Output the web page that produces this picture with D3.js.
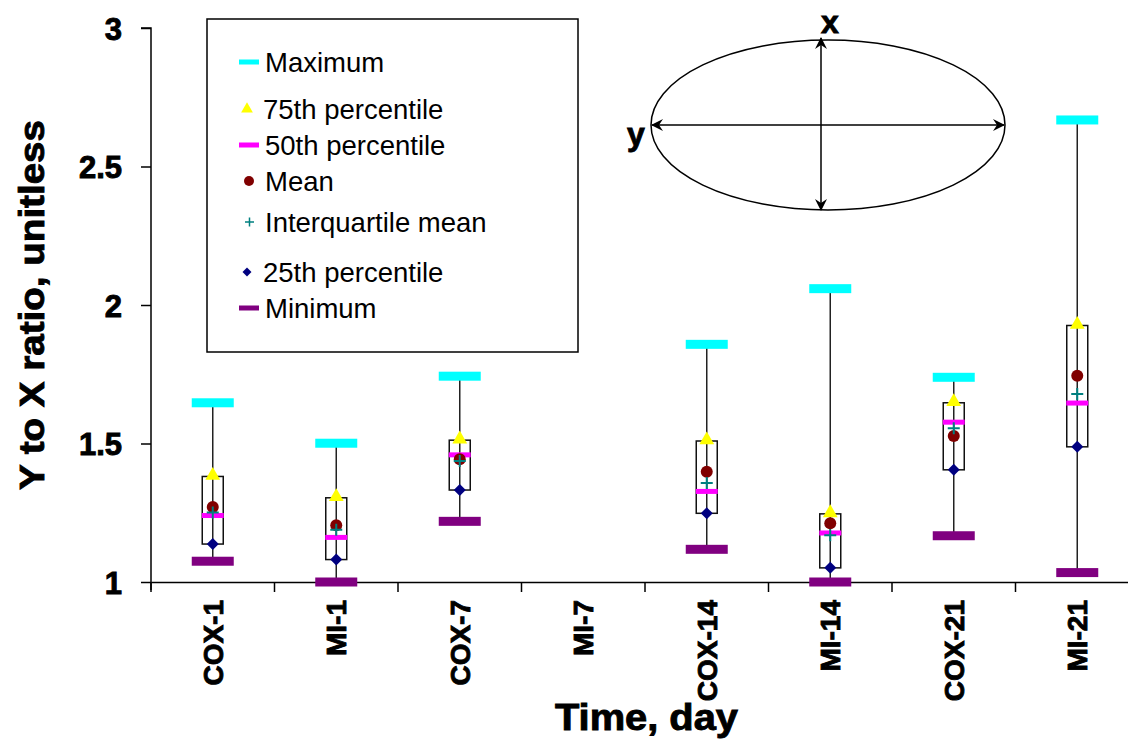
<!DOCTYPE html>
<html>
<head>
<meta charset="utf-8">
<script src="https://cdn.jsdelivr.net/npm/d3@7"></script>
<style>
  body { margin: 0; background: #fff; }
  svg { display: block; font-family: "Liberation Sans", Arial, sans-serif; }
  .heavy { font-weight: bold; stroke: #000; stroke-width: 0.9px; }
</style>
</head>
<body>
<div id="chart"></div>
<script>
// Box plot data (MI-7 has no data).
const categories = ["COX-1", "MI-1", "COX-7", "MI-7", "COX-14", "MI-14", "COX-21", "MI-21"];
const maxVals  = [1.647, 1.501, 1.743, null, 1.858, 2.059, 1.739, 2.668];
const p75Vals  = [1.381, 1.304, 1.512, null, 1.509, 1.246, 1.647, 1.926];
const p50Vals  = [1.240, 1.161, 1.459, null, 1.327, 1.177, 1.577, 1.646];
const meanVals = [1.271, 1.205, 1.443, null, 1.398, 1.212, 1.527, 1.745];
const iqmVals  = [1.251, 1.189, 1.437, null, 1.357, 1.169, 1.555, 1.679];
const p25Vals  = [1.137, 1.081, 1.332, null, 1.248, 1.051, 1.405, 1.488];
const minVals  = [1.075, 1.000, 1.219, null, 1.118, 1.000, 1.167, 1.034];
const yTicks = [1, 1.5, 2, 2.5, 3];

const width = 1128, height = 740;
const svg = d3.select("#chart").append("svg")
    .attr("width", width)
    .attr("height", height);

const x = d3.scaleBand().domain(categories).range([151, 1139]).padding(0);
const y = d3.scaleLinear().domain([1, 3]).range([582, 28]);

// Axes
const yAxis = svg.append("g")
    .attr("transform", "translate(151,0)")
    .call(d3.axisLeft(y).tickValues(yTicks).tickSize(10).tickFormat(d3.format("")));
yAxis.select(".domain").attr("d", "M-10,28H0V590").attr("stroke", "#000").attr("stroke-width", 1.5);
yAxis.selectAll(".tick line").attr("stroke-width", 1.5);
yAxis.selectAll(".tick text")
    .attr("class", "heavy")
    .attr("x", -29)
    .attr("dy", "0.36em")
    .style("font-size", "31px")
    .attr("fill", "#000");

const xAxis = svg.append("g")
    .attr("transform", "translate(0,582)")
    .call(d3.axisBottom(x).tickSize(0).tickFormat(""));
xAxis.select(".domain").attr("stroke", "#000").attr("stroke-width", 1.5);
xAxis.selectAll(".tick").remove();

// tick marks at band boundaries
const bounds = categories.map(c => x(c)).concat([x.range()[1]]);
svg.append("g").selectAll("line")
    .data(bounds)
    .enter().append("line")
    .attr("x1", d => d).attr("x2", d => d)
    .attr("y1", 582).attr("y2", 592)
    .attr("stroke", "#000").attr("stroke-width", 1.5);

// category labels
svg.append("g").selectAll("text")
    .data(categories)
    .enter().append("text")
    .attr("class", "heavy")
    .attr("transform", d => `translate(${x(d) + x.bandwidth() / 2 + 10},600) rotate(-90)`)
    .attr("text-anchor", "end")
    .style("font-size", "28px")
    .text(d => d);

// axis titles
svg.append("text")
    .attr("class", "heavy")
    .attr("x", 555).attr("y", 730)
    .attr("textLength", 183)
    .attr("lengthAdjust", "spacingAndGlyphs")
    .style("font-size", "36px")
    .text("Time, day");

svg.append("text")
    .attr("class", "heavy")
    .attr("transform", "translate(44,490) rotate(-90)")
    .attr("textLength", 370)
    .attr("lengthAdjust", "spacingAndGlyphs")
    .style("font-size", "35px")
    .text("Y to X ratio, unitless");

// Build rows for drawing
const rows = categories.map((c, i) => ({
    cat: c, max: maxVals[i], p75: p75Vals[i], p50: p50Vals[i],
    mean: meanVals[i], iqm: iqmVals[i], p25: p25Vals[i], min: minVals[i]
})).filter(d => d.max !== null);

const cx = d => x(d.cat) + x.bandwidth() / 2;
const plot = svg.append("g");

// whiskers
plot.selectAll(".whisker").data(rows).enter().append("line")
    .attr("x1", cx).attr("x2", cx)
    .attr("y1", d => y(d.min)).attr("y2", d => y(d.max))
    .attr("stroke", "#222").attr("stroke-width", 1.5);

// boxes
plot.selectAll(".box").data(rows).enter().append("rect")
    .attr("x", d => cx(d) - 10.5)
    .attr("width", 21)
    .attr("y", d => y(d.p75))
    .attr("height", d => y(d.p25) - y(d.p75))
    .attr("fill", "none")
    .attr("stroke", "#111").attr("stroke-width", 1.5);

// max / min caps
plot.selectAll(".maxcap").data(rows).enter().append("rect")
    .attr("x", d => cx(d) - 21).attr("width", 42)
    .attr("y", d => y(d.max) - 4.5).attr("height", 9)
    .attr("fill", "#00FFFF");
plot.selectAll(".mincap").data(rows).enter().append("rect")
    .attr("x", d => cx(d) - 21).attr("width", 42)
    .attr("y", d => y(d.min) - 4.5).attr("height", 9)
    .attr("fill", "#800080");

// median
plot.selectAll(".median").data(rows).enter().append("rect")
    .attr("x", d => cx(d) - 11).attr("width", 22)
    .attr("y", d => y(d.p50) - 2.5).attr("height", 5)
    .attr("fill", "#FF00FF");

// 75th percentile triangles
const tri = d3.symbol().type(d3.symbolTriangle).size(95);
plot.selectAll(".p75").data(rows).enter().append("path")
    .attr("d", tri)
    .attr("transform", d => `translate(${cx(d)},${y(d.p75) - 1})`)
    .attr("fill", "#FFFF00");

// mean circles
plot.selectAll(".mean").data(rows).enter().append("circle")
    .attr("cx", cx).attr("cy", d => y(d.mean)).attr("r", 6)
    .attr("fill", "#800000");

// interquartile mean crosses
plot.selectAll(".iqm").data(rows).enter().append("path")
    .attr("d", d => `M${cx(d) - 6},${y(d.iqm)}H${cx(d) + 6}M${cx(d)},${y(d.iqm) - 6}V${y(d.iqm) + 6}`)
    .attr("stroke", "#008080").attr("stroke-width", 2);

// 25th percentile diamonds (rotated squares)
const sq = d3.symbol().type(d3.symbolSquare).size(72);
plot.selectAll(".p25").data(rows).enter().append("path")
    .attr("d", sq)
    .attr("transform", d => `translate(${cx(d)},${y(d.p25)}) rotate(45)`)
    .attr("fill", "#000080");

// Legend
const legend = svg.append("g");
legend.append("rect")
    .attr("x", 207).attr("y", 19).attr("width", 371).attr("height", 333)
    .attr("fill", "#fff").attr("stroke", "#000").attr("stroke-width", 1.5);

const legendItems = [
    { label: "Maximum", y: 62, kind: "bar", color: "#00FFFF" },
    { label: "75th percentile", y: 109, kind: "tri", color: "#FFFF00" },
    { label: "50th percentile", y: 145, kind: "bar", color: "#FF00FF" },
    { label: "Mean", y: 181, kind: "circle", color: "#800000" },
    { label: "Interquartile mean", y: 222, kind: "plus", color: "#008080" },
    { label: "25th percentile", y: 272, kind: "dia", color: "#000080" },
    { label: "Minimum", y: 308, kind: "bar", color: "#800080" }
];
const li = legend.selectAll(".item").data(legendItems).enter().append("g")
    .attr("transform", d => `translate(0,${d.y})`);
li.each(function (d) {
    const g = d3.select(this);
    if (d.kind === "bar") {
        g.append("rect").attr("x", 239).attr("y", -2.5).attr("width", 20).attr("height", 5).attr("fill", d.color);
    } else if (d.kind === "tri") {
        g.append("path").attr("d", d3.symbol().type(d3.symbolTriangle).size(60)).attr("transform", "translate(247,0)").attr("fill", d.color);
    } else if (d.kind === "circle") {
        g.append("circle").attr("cx", 249).attr("cy", 0).attr("r", 5).attr("fill", d.color);
    } else if (d.kind === "plus") {
        g.append("path").attr("d", "M245,0H254M249.5,-4.5V4.5").attr("stroke", d.color).attr("stroke-width", 1.5);
    } else {
        g.append("path").attr("d", d3.symbol().type(d3.symbolSquare).size(40)).attr("transform", "translate(247,0) rotate(45)").attr("fill", d.color);
    }
    g.append("text")
        .attr("x", d.kind === "tri" || d.kind === "dia" ? 263 : 265)
        .attr("dy", "0.36em")
        .style("font-size", "27.5px")
        .text(d.label);
});

// Ellipse inset
const defs = svg.append("defs");
defs.append("marker")
    .attr("id", "arrow")
    .attr("viewBox", "0 -6 12 12")
    .attr("refX", 11).attr("refY", 0)
    .attr("markerWidth", 12).attr("markerHeight", 12)
    .attr("markerUnits", "userSpaceOnUse")
    .attr("orient", "auto-start-reverse")
    .append("path")
    .attr("d", "M0,-6L12,0L0,6L4,0Z")
    .attr("fill", "#000");

const inset = svg.append("g");
inset.append("ellipse")
    .attr("cx", 828).attr("cy", 125).attr("rx", 177).attr("ry", 85)
    .attr("fill", "none").attr("stroke", "#000").attr("stroke-width", 1.5);
inset.append("line")
    .attr("x1", 652).attr("x2", 1004).attr("y1", 125).attr("y2", 125)
    .attr("stroke", "#000").attr("stroke-width", 1.5)
    .attr("marker-start", "url(#arrow)").attr("marker-end", "url(#arrow)");
inset.append("line")
    .attr("x1", 821).attr("x2", 821).attr("y1", 38).attr("y2", 210)
    .attr("stroke", "#000").attr("stroke-width", 1.5)
    .attr("marker-start", "url(#arrow)").attr("marker-end", "url(#arrow)");
inset.append("text")
    .attr("class", "heavy")
    .attr("x", 830).attr("y", 33)
    .attr("text-anchor", "middle")
    .style("font-size", "32px")
    .text("x");
inset.append("text")
    .attr("class", "heavy")
    .attr("x", 636).attr("y", 145)
    .attr("text-anchor", "middle")
    .style("font-size", "32px")
    .text("y");
</script>
</body>
</html>
